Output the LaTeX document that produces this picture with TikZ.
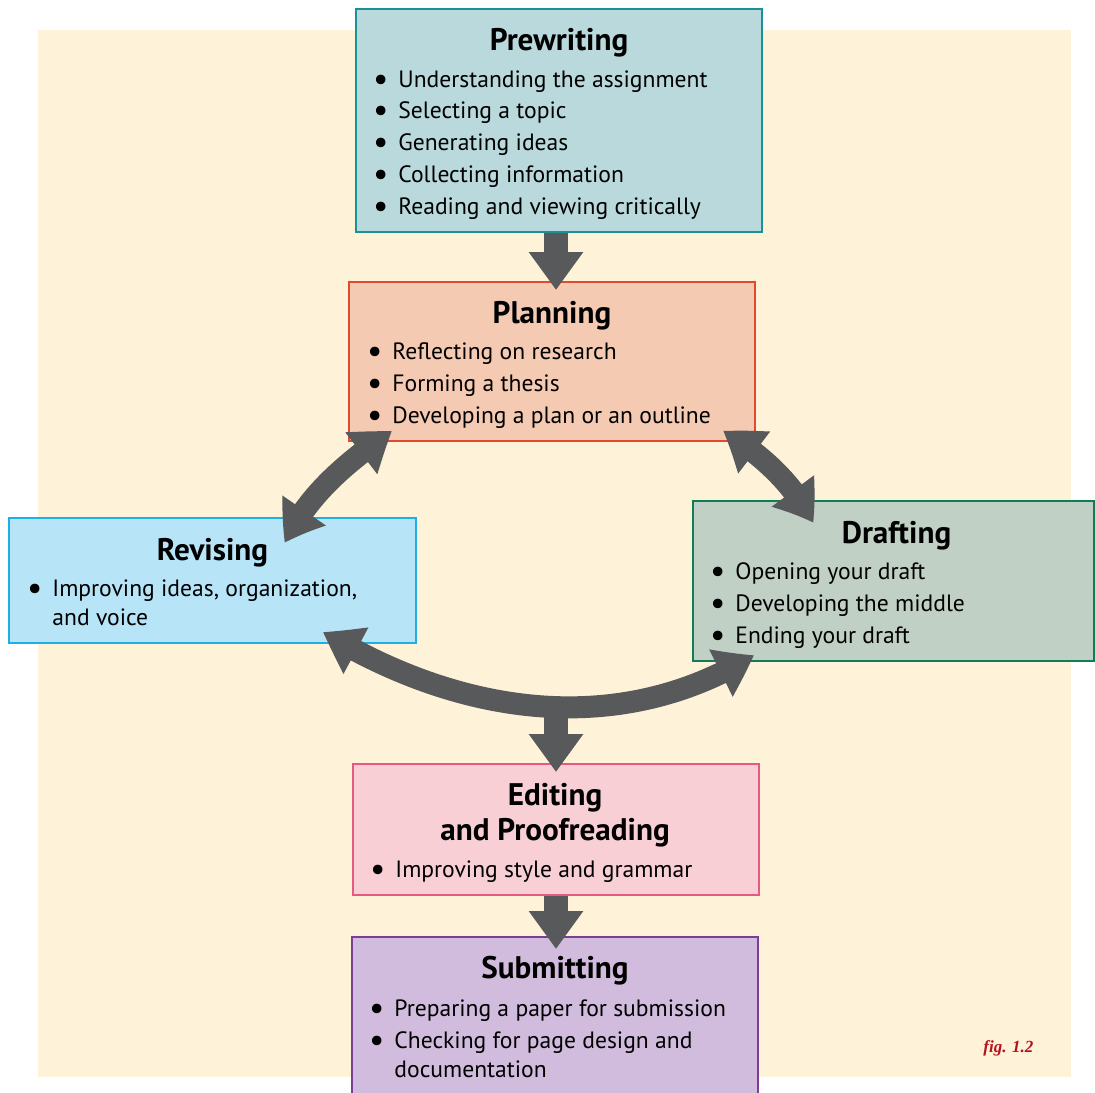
\documentclass[tikz,border=0pt]{standalone}
\usepackage{fontspec}
\setmainfont{PT Sans}
\newfontfamily\figfont{Liberation Serif}
\usetikzlibrary{positioning,arrows.meta,bending,calc}

\definecolor{cream}{HTML}{FEF2D9}
\definecolor{arrowgrey}{HTML}{58595B}
\definecolor{prefill}{HTML}{BAD9DC}   \definecolor{preline}{HTML}{1A9294}
\definecolor{planfill}{HTML}{F5CAB3}  \definecolor{planline}{HTML}{E04A2F}
\definecolor{revfill}{HTML}{B8E4F8}   \definecolor{revline}{HTML}{1CB0E8}
\definecolor{draftfill}{HTML}{C0D0C4} \definecolor{draftline}{HTML}{0F7D57}
\definecolor{editfill}{HTML}{F7CFD5}  \definecolor{editline}{HTML}{E75883}
\definecolor{subfill}{HTML}{D1BCDD}   \definecolor{subline}{HTML}{7B3D96}
\definecolor{figred}{HTML}{B5121B}

\newcommand\itembul{\makebox[0pt][r]{\raisebox{-1.5pt}{\fontsize{17}{14}\selectfont\textbullet}\hspace{5pt}}}

\begin{document}
\begin{tikzpicture}[x=0.5pt,y=-0.5pt,
  stage/.style={draw,line width=1pt,inner sep=0pt},
  head/.style={font=\bfseries\fontsize{15.6}{17.5}\selectfont,anchor=base,align=center,inner sep=0pt},
  items/.style={font=\fontsize{11.8}{14.25}\selectfont,anchor=base west,align=left,inner sep=0pt},
  flow/.style={draw=arrowgrey,line width=12pt,-{Triangle[width=26pt,length=19pt,bend]}},
  dflow/.style={draw=arrowgrey,line width=11pt,{Triangle[width=25pt,length=19pt,bend]}-{Triangle[width=25pt,length=19pt,bend]}}]
  \useasboundingbox (0,0) rectangle (1095,1092);
  \fill[cream] (38,30) rectangle (1071,1077);

  % stages
  \node[stage,fill=prefill,draw=preline,minimum width=203pt,minimum height=111.5pt] (pre) at (559,120.5) {};
  \node[stage,fill=planfill,draw=planline,minimum width=203pt,minimum height=79.5pt] (plan) at (552,361.5) {};
  \node[stage,fill=revfill,draw=revline,minimum width=203.5pt,minimum height=62.5pt] (rev) at (212.5,580.5) {};
  \node[stage,fill=draftfill,draw=draftline,minimum width=200.5pt,minimum height=80pt] (draft) at (893.5,581) {};
  \node[stage,fill=editfill,draw=editline,minimum width=203pt,minimum height=65.5pt] (edit) at (555.5,829.5) {};
  \node[stage,fill=subfill,draw=subline,minimum width=203pt,minimum height=81.5pt] (sub) at (555,1018.5) {};

  % texts (base = last line)
  \node[head] (pre-t) at (559,50) {Prewriting};
  \node[items] (pre-l) at (398,214) {\itembul Understanding the assignment\\[1.6pt] \itembul Selecting a topic\\[1.6pt]
    \itembul Generating ideas\\[1.6pt] \itembul Collecting information\\[1.6pt] \itembul Reading and viewing critically};
  \node[head] (plan-t) at (552,323) {Planning};
  \node[items] (plan-l) at (392,423) {\itembul Reflecting on research\\[1.6pt] \itembul Forming a thesis\\[1.6pt]
    \itembul Developing a plan or an outline};
  \node[head] (rev-t) at (212.5,560) {Revising};
  \node[items] (rev-l) at (52,625) {\itembul Improving ideas, organization,\\ and voice};
  \node[head] (draft-t) at (896.5,543) {Drafting};
  \node[items] (draft-l) at (735,643) {\itembul Opening your draft\\[1.6pt] \itembul Developing the middle\\[1.6pt]
    \itembul Ending your draft};
  \node[head] (edit-t) at (555,840) {Editing\\ and Proofreading};
  \node[items] (edit-l) at (395,877) {\itembul Improving style and grammar};
  \node[head] (sub-t) at (555,978) {Submitting};
  \node[items] (sub-l) at (394,1077) {\itembul Preparing a paper for submission\\[1.6pt] \itembul Checking for page design and\\
    documentation};

  \node[font=\figfont\bfseries\itshape\fontsize{8.5}{10}\selectfont,text=figred,anchor=base west,inner sep=0pt] (fig) at (983,1052) {fig. 1.2};

  % connectors
  \coordinate (spine) at (556,0);
  \coordinate (pl-w) at (392,431);  \coordinate (rev-n) at (285,543);
  \coordinate (pl-e) at (723,431);  \coordinate (draft-n) at (813,523);
  \coordinate (rev-s) at (323,632); \coordinate (draft-s) at (754,655);
  \coordinate (loop) at (556,706);
  \draw[flow,shorten >=-4.5pt] (pre.south -| spine) -- (plan.north -| spine);
  \draw[dflow] (rev-n) .. controls (307,495) and (348,461) .. (pl-w);
  \draw[dflow] (pl-e) .. controls (761,454) and (794,484) .. (draft-n);
  \draw[dflow] (rev-s) .. controls (459,715) and (618,739) .. (draft-s);
  \draw[flow,shorten >=-4.5pt] (loop) -- (edit.north -| spine);
  \draw[flow,shorten >=-6.5pt] (edit.south -| spine) -- (sub.north -| spine);
\end{tikzpicture}
\end{document}
